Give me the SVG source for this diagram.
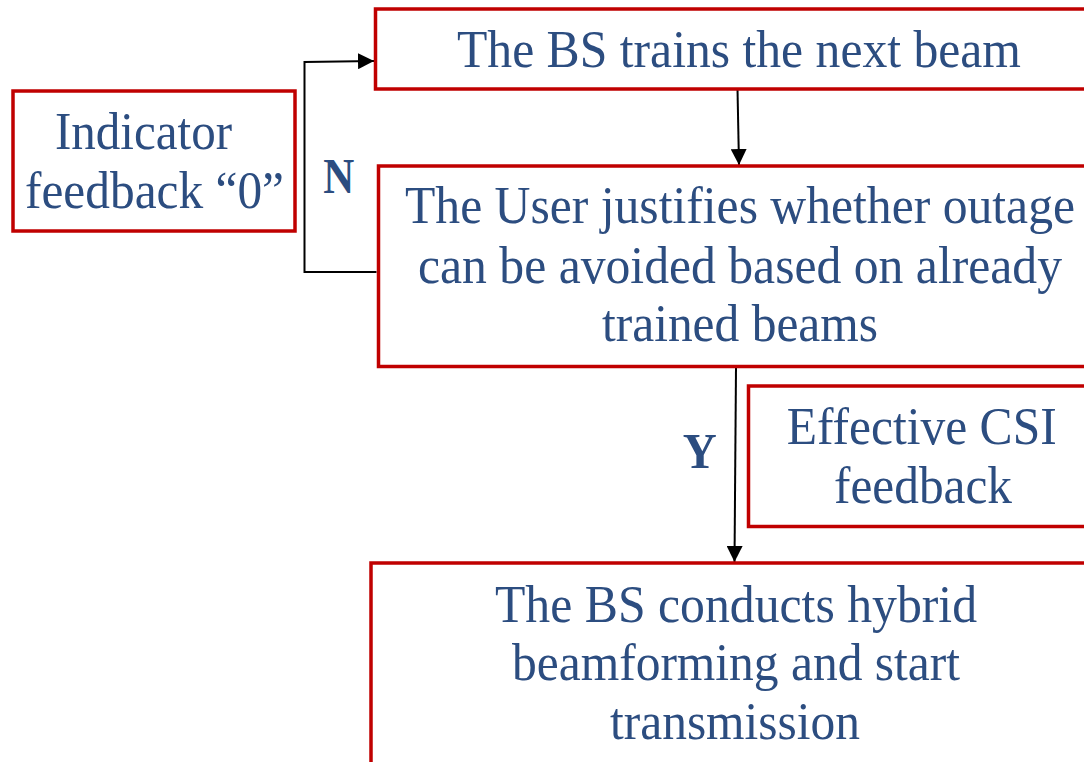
<svg xmlns="http://www.w3.org/2000/svg" width="1084" height="762" viewBox="0 0 1084 762">
<defs>
<style>
.box{fill:#ffffff;stroke:#C00000;stroke-width:3.5}
.t{font-family:"Liberation Serif","Times New Roman",serif;font-size:52px;fill:#2C4D80;text-anchor:middle}
.lbl{font-family:"Liberation Serif","Times New Roman",serif;font-size:51px;font-weight:bold;fill:#2C4D80;text-anchor:middle}
.c{fill:none;stroke:#000000;stroke-width:2}
</style>
<marker id="ah" markerUnits="userSpaceOnUse" markerWidth="16" markerHeight="16" refX="16" refY="8" orient="auto" viewBox="0 0 16 16">
<path d="M0,0 L16,8 L0,16 Z" fill="#000000"/>
</marker>
</defs>
<rect width="1084" height="762" fill="#ffffff"/>
<g id="connectors">
<path class="c" d="M737.5,89 L739,165" marker-end="url(#ah)"/>
<path class="c" d="M376.5,272 L304.5,272 L304.5,62 L374,61" marker-end="url(#ah)"/>
<path class="c" d="M736,367 L734.5,562" marker-end="url(#ah)"/>
</g>
<g id="node-train">
<rect class="box" x="375.5" y="9" width="712" height="80"/>
<text class="t" x="739" y="67" textLength="564" lengthAdjust="spacingAndGlyphs">The BS trains the next beam</text>
</g>
<g id="node-justify">
<rect class="box" x="378.5" y="166" width="709" height="200.5"/>
<text class="t" x="740" y="223" textLength="670" lengthAdjust="spacingAndGlyphs">The User justifies whether outage</text>
<text class="t" x="740" y="283" textLength="644" lengthAdjust="spacingAndGlyphs">can be avoided based on already</text>
<text class="t" x="740" y="341" textLength="276" lengthAdjust="spacingAndGlyphs">trained beams</text>
</g>
<g id="node-indicator">
<rect class="box" x="13" y="91" width="282" height="140"/>
<text class="t" x="143.5" y="149" textLength="177" lengthAdjust="spacingAndGlyphs">Indicator</text>
<text class="t" x="154.5" y="208" textLength="259" lengthAdjust="spacingAndGlyphs">feedback “0”</text>
</g>
<g id="label-n">
<text class="lbl" x="338.7" y="192.7" textLength="31" lengthAdjust="spacingAndGlyphs">N</text>
</g>
<g id="label-y">
<text class="lbl" x="699.7" y="468.3" textLength="34" lengthAdjust="spacingAndGlyphs">Y</text>
</g>
<g id="node-csi">
<rect class="box" x="748.5" y="386" width="339" height="140.5"/>
<text class="t" x="921.7" y="444" textLength="270" lengthAdjust="spacingAndGlyphs">Effective CSI</text>
<text class="t" x="923" y="502.7" textLength="178" lengthAdjust="spacingAndGlyphs">feedback</text>
</g>
<g id="node-transmit">
<rect class="box" x="371" y="563" width="716" height="202"/>
<text class="t" x="736" y="621.7" textLength="482" lengthAdjust="spacingAndGlyphs">The BS conducts hybrid</text>
<text class="t" x="736" y="679.5" textLength="448" lengthAdjust="spacingAndGlyphs">beamforming and start</text>
<text class="t" x="735" y="739" textLength="250" lengthAdjust="spacingAndGlyphs">transmission</text>
</g>
</svg>
